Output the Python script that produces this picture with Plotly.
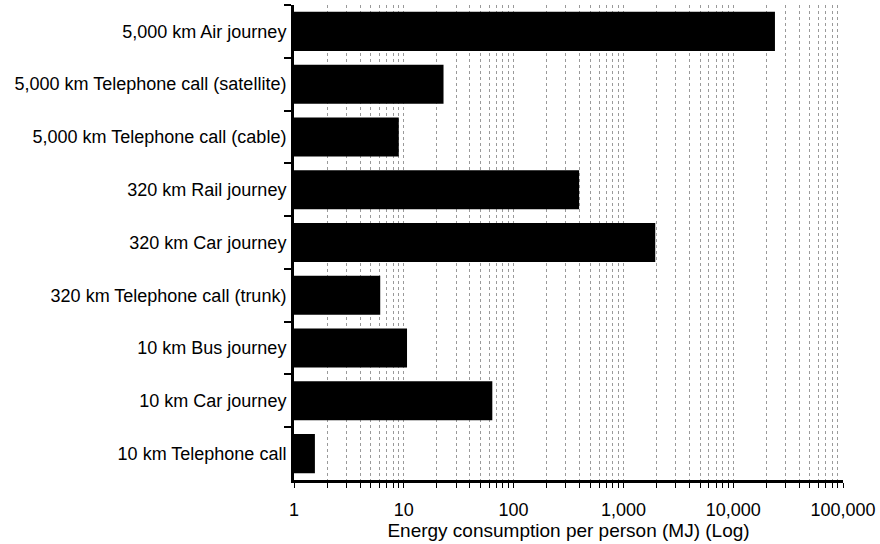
import plotly.graph_objects as go

# Categories listed top to bottom
categories = [
    "5,000 km Air journey",
    "5,000 km Telephone call (satellite)",
    "5,000 km Telephone call (cable)",
    "320 km Rail journey",
    "320 km Car journey",
    "320 km Telephone call (trunk)",
    "10 km Bus journey",
    "10 km Car journey",
    "10 km Telephone call",
]
# Energy consumption per person (MJ)
energy_mj = [24000, 23, 9, 395, 1950, 6.1, 10.7, 64, 1.55]

# Log-axis ticks: every 1..9 step per decade, labelled only at decades
decades = [1, 10, 100, 1000, 10000, 100000]
decade_labels = ["1", "10", "100", "1,000", "10,000", "100,000"]

tick_vals = []
tick_text = []
for d, lab in zip(decades, decade_labels):
    steps = range(1, 10) if d < 100000 else [1]
    for m in steps:
        tick_vals.append(d * m)
        tick_text.append(lab if m == 1 else "")

fig = go.Figure(
    go.Bar(
        x=energy_mj,
        y=categories,
        orientation="h",
        marker=dict(color="black", line=dict(width=0)),
        width=0.74,
    )
)

fig.update_layout(
    width=880,
    height=544,
    margin=dict(l=294, r=37, t=5, b=64),
    paper_bgcolor="white",
    plot_bgcolor="white",
    font=dict(family="Liberation Sans, Arial, sans-serif", size=18, color="black"),
    showlegend=False,
)

fig.update_xaxes(
    type="log",
    range=[0, 5],
    tickmode="array",
    tickvals=tick_vals,
    ticktext=tick_text,
    ticks="outside",
    ticklen=5,
    tickwidth=1,
    tickcolor="black",
    showline=True,
    linewidth=3,
    linecolor="black",
    showgrid=True,
    gridcolor="#9a9a9a",
    gridwidth=1,
    griddash="dot",
    zeroline=False,
    tickfont=dict(size=18),
    ticklabelstandoff=6,
    title=dict(text="Energy consumption per person (MJ) (Log)", font=dict(size=19), standoff=4),
)

fig.update_yaxes(
    type="category",
    categoryorder="array",
    categoryarray=categories,
    autorange="reversed",
    tickson="boundaries",
    ticks="outside",
    ticklen=7,
    tickwidth=2,
    tickcolor="black",
    showline=True,
    linewidth=3,
    linecolor="black",
    showgrid=False,
    zeroline=False,
    tickfont=dict(size=18),
    ticklabelstandoff=1,
)

fig.write_html("out.html")
